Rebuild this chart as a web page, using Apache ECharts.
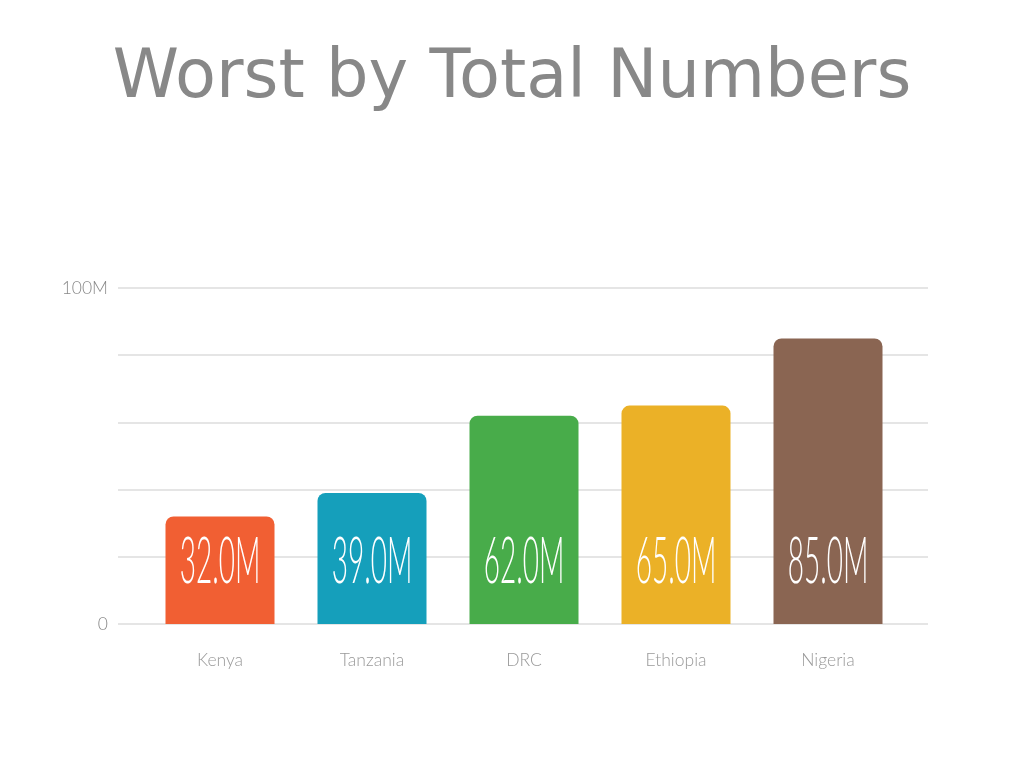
<!DOCTYPE html>
<html><head><meta charset="utf-8">
<script src="https://cdn.jsdelivr.net/npm/echarts@6/dist/echarts.min.js"></script>
<style>html,body{margin:0;padding:0;background:#fff}#c{width:1024px;height:768px}</style>
</head><body><div id="c"></div>
<script>
const categories = ['Kenya', 'Tanzania', 'DRC', 'Ethiopia', 'Nigeria'];
const values = [32, 39, 62, 65, 85]; // millions
const colors = ['#F15F33', '#159FBB', '#48AC4A', '#EBB127', '#8A6552'];
const titleText = 'Worst by Total Numbers';

const chart = echarts.init(document.getElementById('c'));
chart.setOption({
  animation: false,
  title: {
    text: titleText, left: 'center', top: 41,
    textStyle: { fontFamily: 'DejaVu Sans', fontWeight: 'normal', fontSize: 67, color: '#888888' }
  },
  grid: [
    { left: 144, right: 120, top: 288, bottom: 144 },
    { left: 118, right: 96, top: 288, bottom: 144 }
  ],
  xAxis: [{
    gridIndex: 0, type: 'category', data: categories,
    axisLine: { show: false }, axisTick: { show: false },
    axisLabel: { margin: 27, fontFamily: 'Lato', fontWeight: 300, fontSize: 17.5, color: '#999999' }
  }, {
    gridIndex: 1, type: 'value', show: false
  }],
  yAxis: [{
    gridIndex: 0, type: 'value', min: 0, max: 100, interval: 20, show: false
  }, {
    gridIndex: 1, type: 'value', min: 0, max: 100, interval: 20,
    axisLine: { show: false }, axisTick: { show: false },
    splitLine: { lineStyle: { color: '#dddddd', width: 1.5 } },
    axisLabel: {
      margin: 10, fontFamily: 'Lato', fontWeight: 300, fontSize: 17.5, color: '#888888',
      formatter: v => v === 0 ? '0' : (v === 100 ? '100M' : '')
    }
  }],
  series: [{
    type: 'bar', barWidth: 109, xAxisIndex: 0, yAxisIndex: 0,
    data: values.map((v, i) => ({ value: v, itemStyle: { color: colors[i], borderRadius: [8, 8, 0, 0] } })),
    z: 2
  }, {
    type: 'custom', z: 5, xAxisIndex: 0, yAxisIndex: 0,
    data: values.map((v, i) => [i, v]),
    renderItem: (params, api) => {
      const p = api.coord([api.value(0), 0]);
      return {
        type: 'text', x: p[0], y: p[1] - 30, scaleX: 1, scaleY: 2.3,
        style: {
          text: api.value(1).toFixed(1) + 'M', fill: '#ffffff',
          font: '300 28px Lato', align: 'center', verticalAlign: 'bottom'
        }
      };
    }
  }]
});
</script></body></html>
